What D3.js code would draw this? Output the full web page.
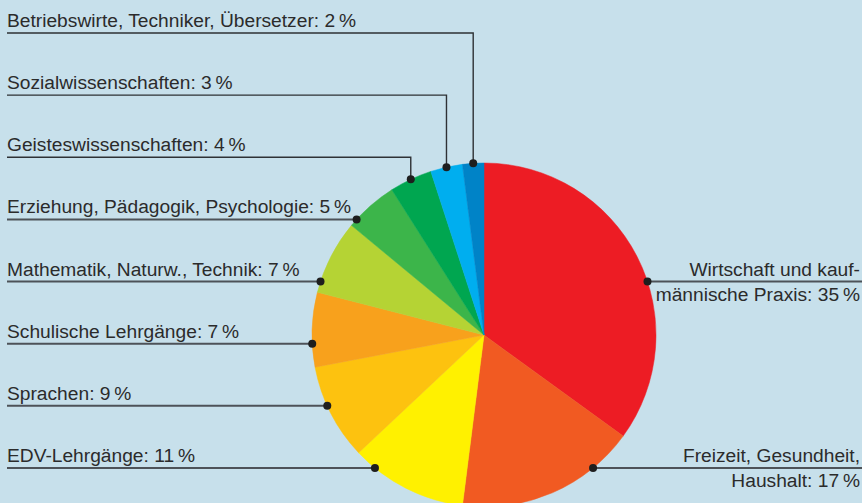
<!DOCTYPE html>
<html>
<head>
<meta charset="utf-8">
<script src="https://cdn.jsdelivr.net/npm/d3@7"></script>
<style>
  html, body { margin: 0; padding: 0; background: #c7e0eb; }
  svg { display: block; }
  text { font-family: "Liberation Sans", Arial, sans-serif; fill: #2b2b2b; }
</style>
</head>
<body>
<svg id="pie-chart"></svg>
<script>
var categories = [
  "Wirtschaft und kaufmännische Praxis",
  "Freizeit, Gesundheit, Haushalt",
  "EDV-Lehrgänge",
  "Sprachen",
  "Schulische Lehrgänge",
  "Mathematik, Naturw., Technik",
  "Erziehung, Pädagogik, Psychologie",
  "Geisteswissenschaften",
  "Sozialwissenschaften",
  "Betriebswirte, Techniker, Übersetzer"
];
var values = [35, 17, 11, 9, 7, 7, 5, 4, 3, 2];
var colors = ["#ed1c24", "#f15a22", "#fff100", "#fdc20f", "#f8a11c", "#b5d334", "#3cb54a", "#00a650", "#00aeef", "#0083c7"];
// label text, one array per slice (multi-line for the right side)
var labelLines = [
  ["Wirtschaft und kauf-", "männische Praxis: 35\u2009%"],
  ["Freizeit, Gesundheit,", "Haushalt: 17\u2009%"],
  ["EDV-Lehrgänge: 11\u2009%"],
  ["Sprachen: 9\u2009%"],
  ["Schulische Lehrgänge: 7\u2009%"],
  ["Mathematik, Naturw., Technik: 7\u2009%"],
  ["Erziehung, Pädagogik, Psychologie: 5\u2009%"],
  ["Geisteswissenschaften: 4\u2009%"],
  ["Sozialwissenschaften: 3\u2009%"],
  ["Betriebswirte, Techniker, Übersetzer: 2\u2009%"]
];

InitChart();

function InitChart() {
  var WIDTH = 862,
    HEIGHT = 503,
    CX = 484,
    CY = 335,
    R = 172,
    FONT = 19.2;

  var svg = d3.select("#pie-chart")
    .attr("width", WIDTH)
    .attr("height", HEIGHT);

  svg.append("rect")
    .attr("width", WIDTH)
    .attr("height", HEIGHT)
    .attr("fill", "#c7e0eb");

  var table = categories.map(function(c, i) {
    return { name: c, value: values[i], color: colors[i], lines: labelLines[i], i: i };
  });

  var pie = d3.pie().sort(null).value(function(d) { return d.value; });
  var arc = d3.arc().innerRadius(0).outerRadius(R);
  var slices = pie(table);

  var g = svg.append("g").attr("transform", "translate(" + CX + "," + CY + ")");

  g.selectAll("path")
    .data(slices)
    .enter()
    .append("path")
    .attr("d", arc)
    .attr("fill", function(d) { return d.data.color; })
    .attr("stroke", function(d) { return d.data.color; })
    .attr("stroke-width", 0.5);

  // rows for the labels: left ones from top to bottom, right ones share rows
  var leftNames = categories.slice(2).reverse();
  var rowY = d3.scalePoint().domain(leftNames).range([33, 468]);
  function labelY(d) {
    if (d.data.i === 0) return rowY(categories[5]);
    if (d.data.i === 1) return rowY(categories[2]);
    return rowY(d.data.name);
  }

  var labels = svg.append("g");

  slices.forEach(function(d) {
    var ly = labelY(d);
    var right = d.data.i < 2;
    var dy = ly - CY;
    var a = null;
    if (Math.abs(dy) < R) {
      var base = Math.acos(-dy / R);
      a = right ? base : 2 * Math.PI - base;
      if (a < d.startAngle || a > d.endAngle) a = null;
    }
    var px, py, elbow = false;
    if (a === null) {
      a = (d.startAngle + d.endAngle) / 2;
      elbow = true;
    }
    px = CX + R * Math.sin(a);
    py = CY - R * Math.cos(a);

    var path;
    if (right) {
      path = "M" + px + "," + ly + "H" + WIDTH;
    } else if (elbow) {
      path = "M7," + ly + "H" + px + "V" + py;
    } else {
      path = "M7," + ly + "H" + px;
    }
    labels.append("path")
      .attr("d", path)
      .attr("fill", "none")
      .attr("stroke", elbow ? "#2e3135" : "#4d5258")
      .attr("stroke-width", elbow ? 1.4 : 2);

    labels.append("circle")
      .attr("cx", px)
      .attr("cy", elbow ? py : ly)
      .attr("r", 4)
      .attr("fill", "#1e1e1e");

    if (right) {
      labels.append("text")
        .attr("x", 860)
        .attr("y", ly - 6)
        .attr("text-anchor", "end")
        .attr("font-size", FONT)
        .text(d.data.lines[0]);
      labels.append("text")
        .attr("x", 860)
        .attr("y", ly + 19)
        .attr("text-anchor", "end")
        .attr("font-size", FONT)
        .text(d.data.lines[1]);
    } else {
      labels.append("text")
        .attr("x", 7)
        .attr("y", ly - 6)
        .attr("font-size", FONT)
        .text(d.data.lines[0]);
    }
  });
}
</script>
</body>
</html>
